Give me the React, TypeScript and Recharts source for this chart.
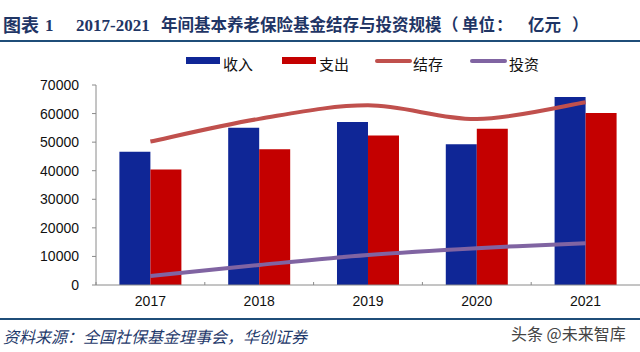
import React from 'react';
import { ComposedChart, Bar, Line, XAxis, YAxis } from 'recharts';

const years = ['2017', '2018', '2019', '2020', '2021'];
const income = [46614, 55005, 57026, 49229, 65793];
const expense = [40424, 47550, 52342, 54656, 60197];
const balance = [50202, 58152, 62873, 58075, 63970];
const investment = [3150, 7000, 10500, 12900, 14650];
const yTicks = [0, 10000, 20000, 30000, 40000, 50000, 60000, 70000];

const seriesNames = { income: '收入', expense: '支出', balance: '结存', investment: '投资' };
const colors = { income: '#0F2696', expense: '#C40000', balance: '#C0504D', investment: '#8064A2' };

const data = years.map((y, i) => ({
  year: y,
  income: income[i],
  expense: expense[i],
  balance: balance[i],
  investment: investment[i],
}));

// Excel-like smooth (Catmull-Rom) curve factory
function smoothCurve(context: any) {
  let pts: number[][] = [];
  return {
    areaStart() {},
    areaEnd() {},
    lineStart() {
      pts = [];
    },
    point(x: number, y: number) {
      pts.push([+x, +y]);
    },
    lineEnd() {
      const n = pts.length;
      if (!n) return;
      context.moveTo(pts[0][0], pts[0][1]);
      for (let i = 0; i < n - 1; i++) {
        const p0 = pts[i - 1] || pts[i];
        const p1 = pts[i];
        const p2 = pts[i + 1];
        const p3 = pts[i + 2] || p2;
        context.bezierCurveTo(
          p1[0] + (p2[0] - p0[0]) / 6,
          p1[1] + (p2[1] - p0[1]) / 6,
          p2[0] - (p3[0] - p1[0]) / 6,
          p2[1] - (p3[1] - p1[1]) / 6,
          p2[0],
          p2[1]
        );
      }
    },
  };
}

const axisColor = '#8a8a8a';

const XTick = (props: any) => {
  const { x, y, payload } = props;
  const half = payload && payload.offset ? payload.offset : 54.4;
  return (
    <g>
      <line x1={x - half} x2={x - half} y1={y - 3} y2={y} stroke={axisColor} strokeWidth={1} />
      <text
        x={x}
        y={y + 21}
        textAnchor="middle"
        fontSize={14}
        fontFamily='"Liberation Sans", Arial, sans-serif'
        fill="#111"
      >
        {payload.value}
      </text>
    </g>
  );
};

const legendItems = [
  { key: 'income', kind: 'rect', left: 186, textLeft: 223 },
  { key: 'expense', kind: 'rect', left: 282, textLeft: 319 },
  { key: 'balance', kind: 'line', left: 375, textLeft: 413 },
  { key: 'investment', kind: 'line', left: 470, textLeft: 509 },
];

const titleParts = [
  { text: '图表', left: 3, size: 18 },
  { text: '1', left: 45, size: 17 },
  { text: '2017-2021', left: 76, size: 17 },
  { text: '年间基本养老保险基金结存与投资规模', left: 161, size: 16.5 },
  { text: '（', left: 442, size: 16.5 },
  { text: '单位', left: 462, size: 16.5 },
  { text: '：', left: 496, size: 16.5 },
  { text: '亿元', left: 528, size: 16.5 },
  { text: '）', left: 572, size: 16.5 },
];

export default function App() {
  return (
    <div
      style={{
        position: 'absolute',
        left: 0,
        top: 0,
        width: 640,
        height: 352,
        background: '#fff',
        overflow: 'hidden',
      }}
    >
      {/* Title */}
      {titleParts.map((p, i) => (
        <div
          key={i}
          style={{
            position: 'absolute',
            left: p.left,
            top: 14,
            fontFamily: '"Liberation Serif", "Noto Sans CJK SC", serif',
            fontWeight: 'bold',
            fontSize: p.size,
            color: '#1F3565',
            whiteSpace: 'nowrap',
            lineHeight: '24px',
            textSpacingTrim: 'space-all',
          } as any}
        >
          {p.text}
        </div>
      ))}
      <div style={{ position: 'absolute', left: 0, top: 40, width: 640, height: 2, background: '#1F4E79' }} />

      {/* Legend */}
      {legendItems.map((it) => (
        <React.Fragment key={it.key}>
          {it.kind === 'rect' ? (
            <div
              style={{
                position: 'absolute',
                left: it.left,
                top: 57,
                width: 34,
                height: 7,
                background: (colors as any)[it.key],
              }}
            />
          ) : (
            <div
              style={{
                position: 'absolute',
                left: it.left,
                top: 59,
                width: 37,
                height: 4,
                borderRadius: 2,
                background: (colors as any)[it.key],
              }}
            />
          )}
          <div
            style={{
              position: 'absolute',
              left: it.textLeft,
              top: 54,
              fontFamily: '"Noto Sans CJK SC", sans-serif',
              fontSize: 15,
              lineHeight: '20px',
              color: '#111',
              whiteSpace: 'nowrap',
            }}
          >
            {(seriesNames as any)[it.key]}
          </div>
        </React.Fragment>
      ))}

      <div style={{ position: 'absolute', left: 0, top: 0 }}>
        <ComposedChart
          width={640}
          height={352}
          data={data}
          margin={{ top: 85, right: 0, bottom: 37, left: 0 }}
          barCategoryGap="21.5%"
          barGap={0}
        >
          <XAxis
            dataKey="year"
            axisLine={{ stroke: axisColor }}
            tickLine={false}
            tickSize={0}
            tickMargin={0}
            height={30}
            tick={<XTick />}
            interval={0}
          />
          <YAxis
            width={96}
            domain={[0, 70000]}
            ticks={yTicks}
            interval={0}
            axisLine={{ stroke: axisColor }}
            tickLine={{ stroke: axisColor }}
            tickSize={4}
            tickMargin={13}
            tick={{ fontSize: 14, fill: '#111', fontFamily: '"Liberation Sans", Arial, sans-serif' }}
          />
          <Bar dataKey="income" name={seriesNames.income} fill={colors.income} isAnimationActive={false} />
          <Bar dataKey="expense" name={seriesNames.expense} fill={colors.expense} isAnimationActive={false} />
          <Line
            dataKey="balance"
            name={seriesNames.balance}
            type={smoothCurve as any}
            stroke={colors.balance}
            strokeWidth={4}
            dot={false}
            isAnimationActive={false}
          />
          <Line
            dataKey="investment"
            name={seriesNames.investment}
            type={smoothCurve as any}
            stroke={colors.investment}
            strokeWidth={4}
            dot={false}
            isAnimationActive={false}
          />
        </ComposedChart>
      </div>

      {/* Footer */}
      <div style={{ position: 'absolute', left: 0, top: 318, width: 640, height: 2, background: '#1F4E79' }} />
      <div
        style={{
          position: 'absolute',
          left: 3,
          top: 325,
          fontFamily: '"Noto Sans CJK SC", serif',
          fontStyle: 'italic',
          fontSize: 16,
          lineHeight: '22px',
          color: '#1F3A6B',
          whiteSpace: 'nowrap',
        }}
      >
        资料来源：全国社保基金理事会，华创证券
      </div>
      <div
        style={{
          position: 'absolute',
          left: 511,
          top: 322,
          fontFamily: '"Noto Sans CJK SC", sans-serif',
          fontSize: 16,
          lineHeight: '22px',
          color: '#444',
          whiteSpace: 'nowrap',
        }}
      >
        头条 @未来智库
      </div>
    </div>
  );
}
